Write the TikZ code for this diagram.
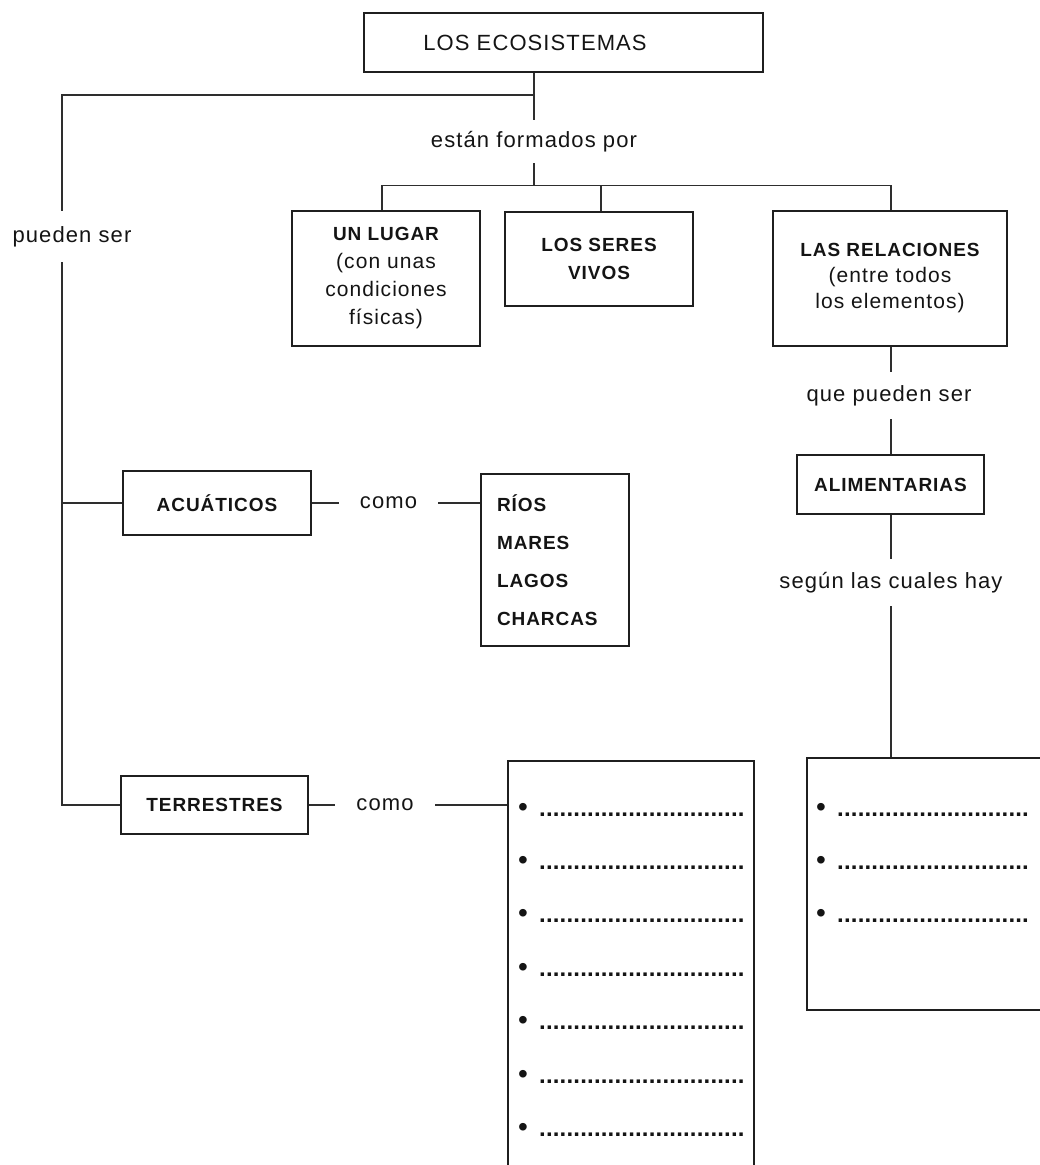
\documentclass[tikz,border=0pt]{standalone}
\usepackage{fontspec}
\setmainfont{Liberation Sans}[LetterSpace=5]
\newcommand\dd{\hbox to 6.85pt{.\hss}}
\newcommand\ddd{\dd\dd\dd\dd}
\newcommand\dotrow{{\bfseries\fontsize{24}{24}\selectfont\ddd\ddd\ddd\ddd\ddd\ddd\ddd\dd\dd}}
\newcommand\dotrowb{{\bfseries\fontsize{24}{24}\selectfont\ddd\ddd\ddd\ddd\ddd\ddd\ddd}}
\begin{document}
\begin{tikzpicture}[x=1pt,y=-1pt,
  box/.style={draw=black!88, line width=1.5pt, rectangle, inner sep=0pt},
  lnk/.style={draw=black!82, line width=1.3pt},
  reg/.style={font=\fontsize{22}{28}\selectfont, text=black!92},
  bld/.style={font=\bfseries\fontsize{19}{28}\selectfont, text=black!92},
  lbl/.style={reg, inner sep=0pt},
  blt/.style={font=\fontsize{28}{28}\selectfont, text=black!92, inner sep=0pt, anchor=base},
  dts/.style={text=black!92, inner sep=0pt, anchor=base west},
]
\useasboundingbox (0,0) rectangle (1040,1165);
\clip (0,0) rectangle (1040,1165);

% top
\node[box, reg, minimum width=399pt, minimum height=59pt] (eco) at (563.5,42.5) {\hspace*{-57pt}LOS ECOSISTEMAS};
\node[lbl, minimum height=43pt] (formados) at (534,141.5) {están formados por};
\node[lbl, minimum height=51pt] (pueden) at (72,236.5) {pueden ser};
\coordinate (lx) at (62,0);
\coordinate (rx) at (891,0);
\coordinate (j0) at (534,95);

% three components
\node[box, align=center, minimum width=188pt, minimum height=135pt, font=\fontsize{21}{28}\selectfont, text=black!92] (lugar) at (386,278.5)
  {{\bfseries\fontsize{19}{28}\selectfont UN LUGAR}\\(con unas\\condiciones\\físicas)};
\node[box, bld, align=center, minimum width=188pt, minimum height=94pt] (seres) at (599,259)
  {LOS SERES\\VIVOS};
\node[box, align=center, minimum width=234pt, minimum height=135pt, font=\fontsize{21}{26}\selectfont, text=black!92] (rel) at (890,278.5)
  {{\bfseries\fontsize{19}{28}\selectfont LAS RELACIONES}\\(entre todos\\los elementos)};

% right branch
\node[lbl, minimum height=47pt] (quepueden) at (889,395.5) {que pueden ser};
\node[box, bld, minimum width=187pt, minimum height=59pt] (alim) at (890.5,484.5) {ALIMENTARIAS};
\node[lbl, minimum height=47pt] (segun) at (891,582.5) {según las cuales hay};
\node[box, minimum width=273pt, minimum height=252pt] (rbox) at (943.5,884) {};

% left branch
\node[box, bld, minimum width=188pt, minimum height=64pt] (acu) at (217,503) {ACUÁTICOS};
\node[lbl, minimum width=99pt, minimum height=30pt] (como1) at (388.5,503) {como};
\node[box, align=left, text width=116pt, inner xsep=16pt, minimum height=172pt,
  font=\bfseries\fontsize{19}{38}\selectfont, text=black!92] (rios) at (555,560)
  {RÍOS\\MARES\\LAGOS\\CHARCAS};
\node[box, bld, minimum width=187pt, minimum height=58pt] (terr) at (214.5,805) {TERRESTRES};
\node[lbl, minimum width=100pt, minimum height=30pt] (como2) at (385,805) {como};
\node[box, minimum width=246pt, minimum height=439pt] (list) at (631,980.5) {};

% connectors
\draw[lnk] (eco.south -| j0) -- (formados.north);
\draw[lnk] (j0) -- (j0 -| lx) -- (pueden.north -| lx);
\draw[lnk] (pueden.south -| lx) -- (lx |- terr.west) -- (terr.west);
\draw[lnk] (lx |- acu.west) -- (acu.west);
\draw[lnk] (formados.south) -- ++(0,23);
\draw[lnk] ([xshift=-4pt]lugar.north) -- ++(0,-25) -| (rel.north -| rx);
\draw[lnk] ([xshift=2pt]seres.north) -- ++(0,-26);
\draw[lnk] (rel.south -| rx) -- (quepueden.north -| rx);
\draw[lnk] (quepueden.south -| rx) -- (alim.north -| rx);
\draw[lnk] (alim.south -| rx) -- (segun.north -| rx);
\draw[lnk] (segun.south -| rx) -- (rbox.north -| rx);
\draw[lnk] (acu.east) -- (como1.west);
\draw[lnk] (como1.east) -- (como1.east -| rios.west);
\draw[lnk] (terr.east) -- (terr.east -| como2.west);
\draw[lnk] (como2.east) -- (como2.east -| list.west);

% list entries
\foreach \yy in {808,861,914,968,1021,1075,1128}{
  \node[blt] at (523,\yy+8.5) {•};
  \node[dts] at (539,\yy+8) {\dotrow};
}
\foreach \yy in {808,861,914}{
  \node[blt] at (821,\yy+8.5) {•};
  \node[dts] at (837,\yy+8) {\dotrowb};
}
\end{tikzpicture}
\end{document}
